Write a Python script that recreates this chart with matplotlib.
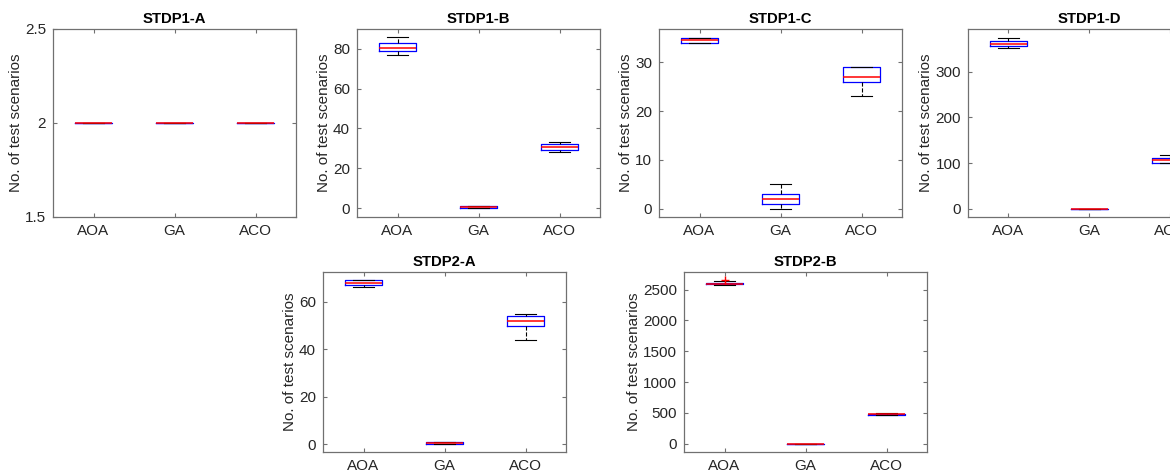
import matplotlib.pyplot as plt
from matplotlib.ticker import MultipleLocator, FuncFormatter

plt.rcParams['font.family'] = ['Liberation Sans', 'DejaVu Sans']

methods = ['AOA', 'GA', 'ACO']

# five-number summaries per method: lower whisker, q1, median, q3, upper whisker
stdp1_a = [[2, 2, 2, 2, 2], [2, 2, 2, 2, 2], [2, 2, 2, 2, 2]]
stdp1_b = [[77, 79, 80.5, 83, 86], [0, 0, 0.5, 1, 1], [28, 29, 30.5, 32, 33]]
stdp1_c = [[34, 34, 34.5, 35, 35], [0, 1, 2, 3, 5], [23, 26, 27, 29, 29]]
stdp1_d = [[351, 356, 361, 367, 374], [0, 0, 0, 0, 0], [99, 101, 107, 112, 118]]
stdp2_a = [[66, 67, 68, 69, 69], [0, 0, 0.5, 1, 1], [44, 50, 52, 54, 55]]
stdp2_b = [[2580, 2590, 2600, 2615, 2640], [0, 0, 0, 0, 0], [462, 472, 480, 488, 495]]
stdp2_b_outliers = [[2665], [], []]

panels = [
    ('STDP1-A', stdp1_a, None, (1.5, 2.5), 0.5),
    ('STDP1-B', stdp1_b, None, (-4.5, 90), 20),
    ('STDP1-C', stdp1_c, None, (-1.7, 36.8), 10),
    ('STDP1-D', stdp1_d, None, (-18, 393), 100),
    ('STDP2-A', stdp2_a, None, (-3.2, 72.5), 20),
    ('STDP2-B', stdp2_b, stdp2_b_outliers, (-135, 2787), 500),
]

W, H = 1170, 473
# axes boxes in pixels: left, top, width, height
boxes = [(53, 29, 243, 188), (357, 29, 243, 188), (659, 29, 243, 188),
         (968, 29, 243, 188), (323, 272, 243, 180), (684, 272, 243, 180)]

fig = plt.figure(figsize=(W / 100, H / 100), dpi=100)
edge = '#707070'
txt = '#262626'

for (title, summ, outl, ylim, step), (l, t, w, h) in zip(panels, boxes):
    ax = fig.add_axes([l / W, 1 - (t + h) / H, w / W, h / H])
    stats = []
    for i, s in enumerate(summ):
        stats.append(dict(whislo=s[0], q1=s[1], med=s[2], q3=s[3], whishi=s[4],
                          fliers=outl[i] if outl else []))
    ax.bxp(stats, positions=[1, 2, 3], widths=0.46, capwidths=0.25,
           boxprops=dict(color='blue', lw=0.9),
           medianprops=dict(color='red', lw=1.1, zorder=4),
           whiskerprops=dict(color='black', lw=0.8, ls='--'),
           capprops=dict(color='black', lw=0.8),
           flierprops=dict(marker='+', markeredgecolor='red', markersize=6, lw=0))
    ax.set_xlim(0.5, 3.5)
    ax.set_ylim(*ylim)
    ax.yaxis.set_major_locator(MultipleLocator(step))
    ax.yaxis.set_major_formatter(FuncFormatter(lambda v, p: f'{v:g}'))
    ax.set_xticks([1, 2, 3], methods)
    ax.tick_params(direction='in', top=True, right=True, length=3,
                   labelsize=11, colors=edge, labelcolor=txt, pad=5)
    for sp in ax.spines.values():
        sp.set_color(edge)
        sp.set_linewidth(0.9)
    ax.set_title(title, fontsize=10.7, fontweight='bold', pad=4)
    ax.set_ylabel('No. of test scenarios', fontsize=11, color=txt, labelpad=1.5)

fig.savefig('out.png', dpi=100)
